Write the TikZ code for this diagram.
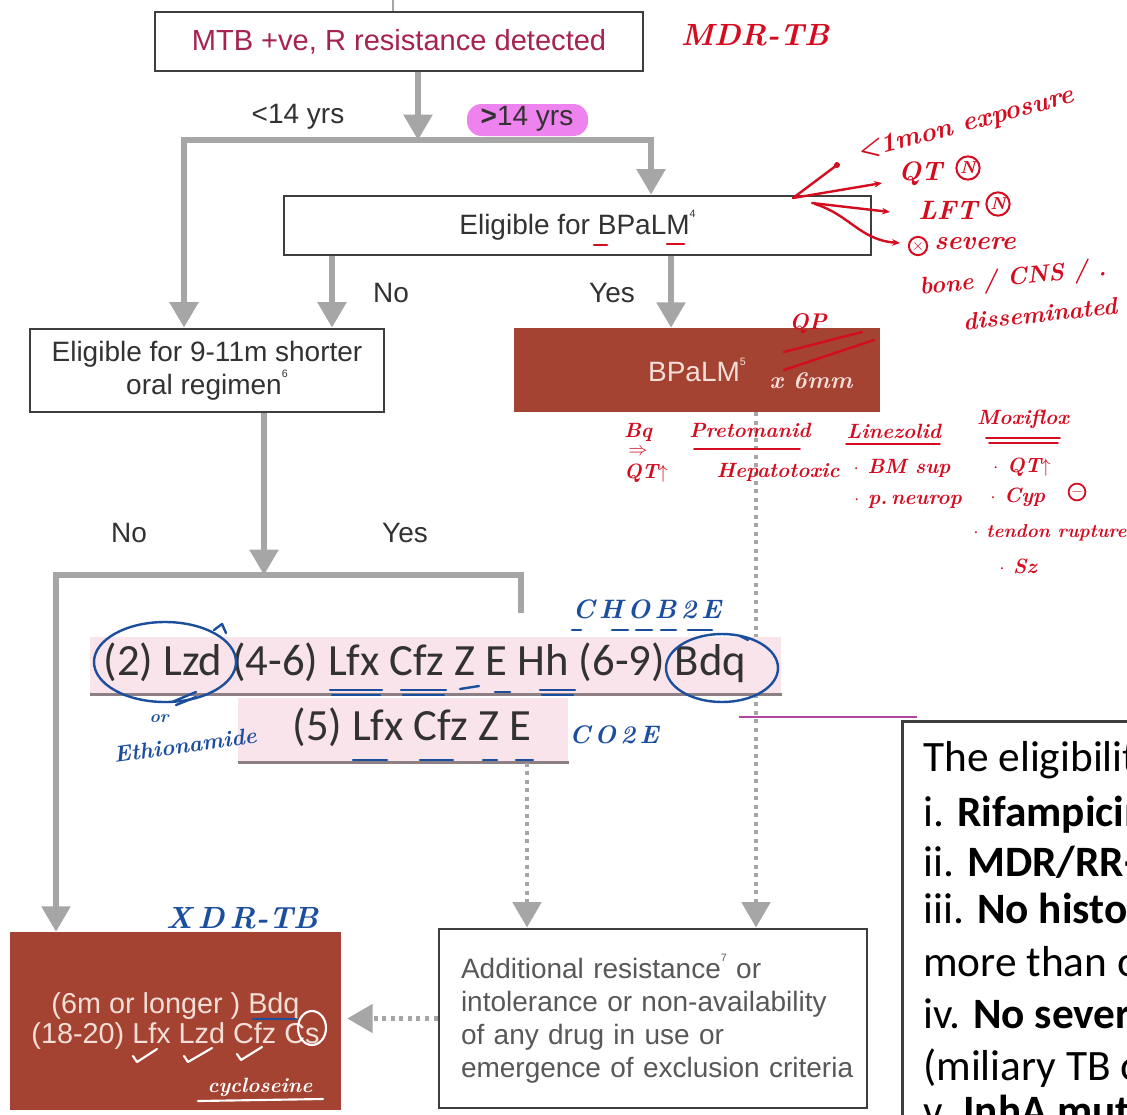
\documentclass[tikz,border=0pt]{standalone}
\usepackage{fontspec}
\setmainfont{Liberation Sans}
\newfontfamily\carl{Carlito}
\newfontfamily\handlm{Latin Modern Roman}
\usetikzlibrary{arrows.meta}

\definecolor{conn}{RGB}{166,166,166}
\definecolor{edge}{RGB}{62,62,62}
\definecolor{brick}{RGB}{164,67,49}
\definecolor{bandpink}{RGB}{250,228,236}
\definecolor{bandline}{RGB}{140,128,132}
\definecolor{ink}{RGB}{212,12,32}
\definecolor{pen}{RGB}{28,78,158}
\definecolor{topred}{RGB}{165,35,78}
\definecolor{hilite}{RGB}{238,130,238}
\definecolor{mauve}{RGB}{178,72,158}
\definecolor{paletext}{RGB}{244,222,216}
\definecolor{darktext}{RGB}{50,50,50}
\definecolor{greytext}{RGB}{88,88,88}

\newcommand\fl{\fontsize{21}{24.8}\selectfont}
\newcommand\sups[1]{\raisebox{0.6em}{\fontsize{8}{8}\selectfont #1}}

\begin{document}
\begin{tikzpicture}[x=0.75pt,y=-0.75pt,
  box/.style={draw=edge, line width=2.2pt, fill=white, inner sep=0pt, align=center, font=\fl, text=darktext},
  brickbox/.style={fill=brick, draw=none, inner sep=0pt, align=center, font=\fl, text=paletext},
  flow/.style={draw=conn, line width=4pt, -{Triangle[width=21pt,length=19pt]}},
  link/.style={draw=conn, line width=4pt},
  dotflow/.style={draw=conn, line width=3.5pt, dash pattern=on 3pt off 3.4pt, -{Triangle[width=21pt,length=19pt]}},
  lbl/.style={font=\fl, text=darktext, inner sep=0pt},
  band/.style={fill=bandpink, draw=none, inner sep=0pt},
  rowtext/.style={font=\carl\fontsize{33.5}{36}\selectfont, text=darktext, inner sep=0pt, anchor=base},
  sidetext/.style={font=\carl\fontsize{32.5}{36}\selectfont, text=black, inner sep=0pt, anchor=base west},
  redhand/.style={text=ink, font=\handlm\bfseries\itshape\fontsize{20}{22}\selectfont, inner sep=0pt},
  smallred/.style={text=ink, font=\handlm\bfseries\itshape\fontsize{15.5}{17}\selectfont, inner sep=0pt},
  bluehand/.style={text=pen, font=\handlm\bfseries\itshape\fontsize{19}{21}\selectfont, inner sep=0pt},
  whitehand/.style={text=white, font=\handlm\bfseries\itshape\fontsize{15.5}{17}\selectfont, inner sep=0pt},
  redpen/.style={draw=ink, line width=1.8pt, line cap=round, line join=round},
  bluepen/.style={draw=pen, line width=1.8pt, line cap=round, line join=round},
  whitepen/.style={draw=white, line width=1.6pt, line cap=round, line join=round}]

\useasboundingbox (0,0) rectangle (1127,1114);
\clip (0,0) rectangle (1127,1114);
\fill[white] (0,0) rectangle (1127,1114);

% column and level coordinates
\coordinate (cTick) at (393,0);
\coordinate (cTop) at (418,0);
\coordinate (cL) at (56,0);
\coordinate (c1) at (184,0);
\coordinate (cNo) at (332,0);
\coordinate (cRy) at (521,0);
\coordinate (cD1) at (527,0);
\coordinate (cRB) at (651,0);
\coordinate (cYes) at (671,0);
\coordinate (cD2) at (756,0);
\coordinate (split) at (418,140);
\coordinate (meet) at (264,575);
\coordinate (stub) at (521,613);

% boxes
\node[box, minimum width=366pt, minimum height=44.25pt, text=topred, font=\fontsize{21.8}{25}\selectfont] (top) at (399,41.5) {MTB +ve, R resistance detected};
\node[box, minimum width=440.25pt, minimum height=44.25pt] (elig) at (577.5,225.5) {Eligible for BPaLM\sups{4}};
\node[box, minimum width=265.5pt, minimum height=62.25pt] (short) at (207,370.5) {Eligible for 9-11m shorter\\oral regimen\sups{6}};
\node[brickbox, minimum width=274.5pt, minimum height=63pt] (bpalm) at (697,370) {BPaLM\sups{5}};
\node[box, minimum width=321pt, minimum height=134.25pt, text=greytext, align=left, text width=288pt] (addl) at (653,1018.5)
  {\mbox{Additional resistance\sups{7} or}\\\mbox{intolerance or non-availability}\\\mbox{of any drug in use or}\\\mbox{emergence of exclusion criteria}};
\node[brickbox, minimum width=248.25pt, minimum height=133.5pt, font=\fontsize{21.6}{22.5}\selectfont] (xdr) at (175.5,1021)
  {(6m or longer ) Bdq\\(18-20) Lfx Lzd Cfz Cs};
\node[box, minimum width=225pt, minimum height=345pt, anchor=north west] (rbox) at (901,720) {};

% connectors
\draw[draw=conn, line width=1pt] (cTick) -- (cTick |- top.north);
\draw[flow] (top.south -| cTop) -- (split);
\draw[flow] (split) -| (cRB |- elig.north);
\draw[flow] (split) -| (c1 |- short.north);
\draw[flow] (elig.south -| cNo) -- (cNo |- short.north);
\draw[flow] (elig.south -| cYes) -- (cYes |- bpalm.north);
\draw[flow] (short.south -| meet) -- (meet);
\draw[flow] (meet) -| (cL |- xdr.north);
\draw[link] (meet) -| (stub);
\draw[dotflow] (bpalm.south -| cD2) -- (cD2 |- addl.north);
\draw[dotflow, shorten >=4.5pt] (addl.west) -- (xdr.east |- addl.west);

% branch labels
\node[lbl] (lt14) at (298,117) {<14 yrs};
\fill[hilite, rounded corners=11pt] (467,104) rectangle (588,136);
\node[lbl] (gt14) at (527,119) {\textbf{>}14 yrs};
\node[lbl] (no1) at (391,293) {No};
\node[lbl] (yes1) at (612,293) {Yes};
\node[lbl] (no2) at (129,533) {No};
\node[lbl] (yes2) at (405,533) {Yes};

% regimen rows
\node[band, minimum width=518.25pt, minimum height=42.75pt, anchor=north west] (band1) at (90,637) {};
\draw[bandline, line width=2.2pt] (band1.south west) -- (band1.south east);
\node[band, minimum width=247.5pt, minimum height=48pt, anchor=north west] (band2) at (238,698) {};
\draw[bandline, line width=2.2pt] (band2.south west) -- (band2.south east);
\draw[dotflow] (band2.south -| cD1) -- (cD1 |- addl.north);
\node[rowtext] (row1) at (425,675) {(2) Lzd (4-6) Lfx Cfz Z E Hh (6-9) Bdq};
\node[rowtext] (row2) at (412,740) {(5) Lfx Cfz Z E};

% side panel text
\node[sidetext] (s1) at (923,771) {The eligibility criteria};
\node[sidetext] (s2) at (923,826) {i. \textbf{Rifampicin resistant}};
\node[sidetext] (s3) at (923,876) {ii. \textbf{MDR/RR-TB}};
\node[sidetext] (s4) at (923,923) {iii. \textbf{No history of}};
\node[sidetext] (s5) at (923,976) {more than one};
\node[sidetext] (s6) at (923,1028) {iv. \textbf{No severe}};
\node[sidetext] (s7) at (923,1080) {(miliary TB or};
\node[sidetext] (s8) at (923,1125) {v. \textbf{InhA mutation}};
\draw[mauve, line width=1.8pt] (739,717) -- (917,717);

% red notes
\node[redhand, font=\handlm\bfseries\itshape\fontsize{23}{25}\selectfont] (mdr) at (755,35) {MDR-TB};
\draw[redpen, -{Stealth[length=6pt,width=5pt]}] (793,198) -- (882,183);
\draw[redpen] (793,198) -- (837,165);
\fill[ink] (837,165) circle (3);
\draw[redpen, -{Stealth[length=6pt,width=5pt]}] (812,203) -- (890,212);
\draw[redpen, -{Stealth[length=6pt,width=5pt]}] (815,204) .. controls (850,215) and (860,240) .. (900,243);
\node[redhand, rotate=15, font=\handlm\bfseries\itshape\fontsize{20}{22}\selectfont] (expo) at (966,125) {<1mon exposure};
\node[redhand, anchor=west] (qt) at (898,174) {QT};
\node[draw=ink, circle, line width=1.5pt, inner sep=1pt, text=ink, font=\handlm\bfseries\itshape\fontsize{13}{13}\selectfont] (qtn) at (968,168) {N};
\node[redhand, anchor=west] (lft) at (918,210) {LFT};
\node[draw=ink, circle, line width=1.5pt, inner sep=1pt, text=ink, font=\handlm\bfseries\itshape\fontsize{13}{13}\selectfont] (lftn) at (998,204) {N};
\node[draw=ink, circle, line width=1.5pt, inner sep=0.5pt, text=ink, font=\fontsize{12}{12}\selectfont] (sevx) at (918,246) {$\times$};
\node[redhand, anchor=west] (sev) at (934,244) {severe};
\node[redhand, rotate=6, font=\handlm\bfseries\itshape\fontsize{18}{20}\selectfont] (bone) at (1013,279) {bone / CNS / .};
\node[redhand, rotate=6, font=\handlm\bfseries\itshape\fontsize{18}{20}\selectfont] (diss) at (1040,314) {disseminated};
\node[redhand, font=\handlm\bfseries\itshape\fontsize{17}{19}\selectfont] (qp) at (808,324) {QP};
\draw[redpen] (784,352) -- (862,332);
\draw[redpen] (784,370) -- (874,340);
\node[whitehand, font=\handlm\bfseries\itshape\fontsize{18}{20}\selectfont, text=paletext] (six) at (811,381) {x 6mm};

\node[smallred] (bq) at (638,432) {Bq};
\node[smallred, font=\fontsize{15}{15}\selectfont] (bqar) at (638,452) {$\Rightarrow$};
\node[smallred] (bqqt) at (646,473) {QT$\uparrow$};
\node[smallred] (preto) at (750,430) {Pretomanid};
\draw[redpen, line width=1.3pt] (694,449) -- (800,449);
\node[smallred] (hepa) at (778,472) {Hepatotoxic};
\node[smallred] (lzd) at (894,431) {Linezolid};
\draw[redpen, line width=1.3pt] (846,444) -- (940,444);
\node[smallred] (bms) at (902,468) {$\cdot$ BM sup};
\node[smallred] (pneu) at (908,502) {$\cdot$ p.\,neurop};
\node[smallred] (moxi) at (1023,419) {Moxiflox};
\draw[redpen, line width=1.3pt] (986,438) -- (1060,438);
\draw[redpen, line width=1.3pt] (989,443) -- (1058,443);
\node[smallred] (mqt) at (1022,467) {$\cdot$ QT$\uparrow$};
\node[smallred, anchor=west] (cyp) at (990,497) {$\cdot$ Cyp};
\node[draw=ink, circle, line width=1.3pt, inner sep=0.5pt, text=ink, font=\fontsize{11}{11}\selectfont] (cypm) at (1077,492) {$-$};
\node[smallred, font=\handlm\bfseries\itshape\fontsize{14}{16}\selectfont] (tend) at (1050,533) {$\cdot$ tendon rupture};
\node[smallred] (sz) at (1018,566) {$\cdot$ Sz};
\draw[redpen, line width=2pt] (594,245) -- (607,245);
\draw[redpen, line width=2pt] (667,244) -- (684,244);

% blue notes
\node[bluehand, font=\handlm\bfseries\itshape\fontsize{20}{22}\selectfont] (chob) at (647,609) {C\,H\,O\,B\,2\,E};
\foreach \a/\b in {572/581,612/628,636/652,661/676,688/712}
  \draw[bluepen, line width=2pt] (\a,630) -- (\b,630);
\draw[bluepen] (165,662) ellipse [x radius=71, y radius=40];
\draw[bluepen] (214,630) -- (222,624) -- (226,633);
\draw[bluepen] (722,668) ellipse [x radius=56, y radius=34];
\draw[bluepen] (740,636) -- (748,640);
\draw[bluepen] (172,702) -- (196,692);
\draw[bluepen] (176,705) -- (196,697);
\foreach \a/\b in {330/382,401/446,540/575}{
  \draw[bluepen] (\a,690) -- (\b,690);
  \draw[bluepen] (\a+2,695) -- (\b-2,695);}
\draw[bluepen] (460,689) -- (479,686);
\draw[bluepen, line width=2.2pt] (495,692) -- (510,692);
\node[bluehand, font=\handlm\bfseries\itshape\fontsize{13}{14}\selectfont] (ornote) at (159,719) {or};
\node[bluehand, rotate=8, font=\handlm\bfseries\itshape\fontsize{17}{19}\selectfont] (ethio) at (185,745) {Ethionamide};
\node[bluehand] (coze) at (614,735) {C\,O\,2\,E};
\foreach \a/\b in {353/387,420/453,483/497,516/533}
  \draw[bluepen] (\a,760) -- (\b,760);
\node[bluehand, font=\handlm\bfseries\itshape\fontsize{23}{25}\selectfont] (xdrtb) at (242,918) {X\,D\,R-TB};
\draw[bluepen, line width=2.2pt] (253,1019) -- (296,1019);

% white marks on the last regimen
\draw[whitepen] (312,1028) ellipse [x radius=14, y radius=17];
\draw[whitepen] (133,1056) -- (137,1062) -- (157,1049);
\draw[whitepen] (184,1056) -- (188,1062) -- (212,1048);
\draw[whitepen] (237,1054) -- (241,1060) -- (262,1047);
\node[whitehand] (cyclo) at (260,1087) {cycloseine};
\draw[whitepen] (198,1101) -- (323,1099);
\end{tikzpicture}
\end{document}
